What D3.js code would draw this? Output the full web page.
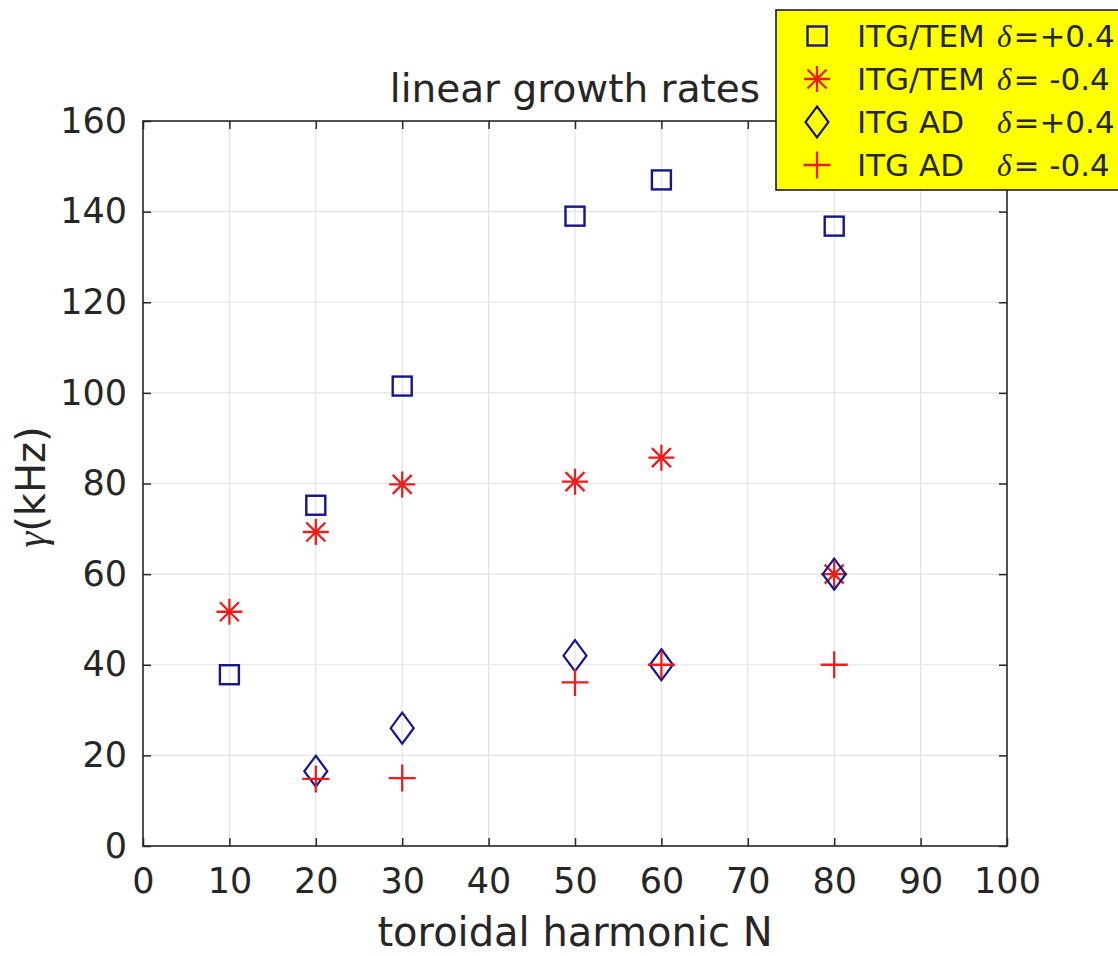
<!DOCTYPE html>
<html>
<head>
<meta charset="utf-8">
<script src="https://cdn.jsdelivr.net/npm/d3@7"></script>
<style>
  html, body { margin: 0; padding: 0; background: #ffffff; }
  svg { display: block; }
  text { font-family: "DejaVu Sans", sans-serif; fill: #262626; }
</style>
</head>
<body>
<svg id="chart" width="1118" height="956"></svg>
<script>
// ---- data ----
const xTicks = [0, 10, 20, 30, 40, 50, 60, 70, 80, 90, 100];
const yTicks = [0, 20, 40, 60, 80, 100, 120, 140, 160];

const temPosN = [10, 20, 30, 50, 60, 80];
const temPosG = [37.8, 75.2, 101.5, 139, 147, 136.8];

const temNegN = [10, 20, 30, 50, 60, 80];
const temNegG = [51.7, 69.3, 79.8, 80.4, 85.7, 60];

const adPosN = [20, 30, 50, 60, 80];
const adPosG = [16.5, 26, 42, 40, 60];

const adNegN = [20, 30, 50, 60, 80];
const adNegG = [14.8, 15, 36.1, 40, 40];

const legendNames = ["ITG/TEM", "ITG/TEM", "ITG AD", "ITG AD"];
const legendDeltas = ["=+0.4", "= -0.4", "=+0.4", "= -0.4"];

const titleText = "linear growth rates";
const xLabelText = "toroidal harmonic N";

// ---- layout ----
const svg = d3.select("#chart");
const L = 143, R = 1007, T = 121, B = 846;
const x = d3.scaleLinear().domain([0, 100]).range([L, R]);
const y = d3.scaleLinear().domain([0, 160]).range([B, T]);

const blue = "#16168a";
const red = "#ee1c1c";
const axisColor = "#262626";

// grid
const grid = svg.append("g");
grid.selectAll("line.gx").data(xTicks.slice(1, -1)).enter().append("line")
  .attr("x1", d => x(d)).attr("x2", d => x(d)).attr("y1", T).attr("y2", B)
  .attr("stroke", "#e3e3e3").attr("stroke-width", 1.2);
grid.selectAll("line.gy").data(yTicks.slice(1, -1)).enter().append("line")
  .attr("x1", L).attr("x2", R).attr("y1", d => y(d)).attr("y2", d => y(d))
  .attr("stroke", "#e3e3e3").attr("stroke-width", 1.2);

// axes (inward ticks, box)
const xAxis = d3.axisBottom(x).tickValues(xTicks).tickSize(-8).tickPadding(22).tickFormat(d3.format("d"));
const yAxis = d3.axisLeft(y).tickValues(yTicks).tickSize(-8).tickPadding(16).tickFormat(d3.format("d"));

const gx = svg.append("g").attr("transform", `translate(0,${B})`).call(xAxis);
const gy = svg.append("g").attr("transform", `translate(${L},0)`).call(yAxis);
[gx, gy].forEach(g => {
  g.select(".domain").remove();
  g.selectAll(".tick line").attr("stroke", axisColor).attr("stroke-width", 1.5);
  g.selectAll(".tick text").attr("fill", axisColor).style("font-family", "DejaVu Sans")
    .style("font-size", "35px");
});
// top/right ticks
svg.append("g").attr("transform", `translate(0,${T})`)
  .call(d3.axisTop(x).tickValues(xTicks).tickSize(-8).tickFormat(""))
  .call(g => { g.select(".domain").remove(); g.selectAll(".tick line").attr("stroke", axisColor).attr("stroke-width", 1.5); });
svg.append("g").attr("transform", `translate(${R},0)`)
  .call(d3.axisRight(y).tickValues(yTicks).tickSize(-8).tickFormat(""))
  .call(g => { g.select(".domain").remove(); g.selectAll(".tick line").attr("stroke", axisColor).attr("stroke-width", 1.5); });

svg.append("rect").attr("x", L).attr("y", T).attr("width", R - L).attr("height", B - T)
  .attr("fill", "none").attr("stroke", axisColor).attr("stroke-width", 1.6);

// labels
svg.append("text").attr("x", (L + R) / 2).attr("y", 102).attr("text-anchor", "middle")
  .style("font-size", "39px").attr("fill", "#111").text(titleText);
svg.append("text").attr("x", (L + R) / 2).attr("y", 946).attr("text-anchor", "middle")
  .style("font-size", "40px").text(xLabelText);
const yl = svg.append("text").attr("transform", `translate(45,487) rotate(-90)`)
  .attr("text-anchor", "middle").style("font-size", "40px");
yl.append("tspan").style("font-family", "Liberation Serif").style("font-style", "italic").text("γ");
yl.append("tspan").text("(kHz)");

// ---- marker drawers ----
function square(g, cx, cy, color) {
  g.append("rect").attr("x", cx - 9.5).attr("y", cy - 9.5).attr("width", 19).attr("height", 19)
    .attr("fill", "none").attr("stroke", color).attr("stroke-width", 2.4);
}
function diamond(g, cx, cy, color) {
  const w = 11.5, h = 15.5;
  g.append("path").attr("d", `M${cx},${cy - h}L${cx + w},${cy}L${cx},${cy + h}L${cx - w},${cy}Z`)
    .attr("fill", "none").attr("stroke", color).attr("stroke-width", 2.2);
}
function asterisk(g, cx, cy, color) {
  const r = 13, d = 9.5;
  const p = `M${cx - r},${cy}L${cx + r},${cy}M${cx},${cy - r}L${cx},${cy + r}` +
            `M${cx - d},${cy - d}L${cx + d},${cy + d}M${cx - d},${cy + d}L${cx + d},${cy - d}`;
  g.append("path").attr("d", p).attr("fill", "none").attr("stroke", color).attr("stroke-width", 2.3);
}
function plus(g, cx, cy, color) {
  const r = 13.5;
  g.append("path").attr("d", `M${cx - r},${cy}L${cx + r},${cy}M${cx},${cy - r}L${cx},${cy + r}`)
    .attr("fill", "none").attr("stroke", color).attr("stroke-width", 2.3);
}

const marks = svg.append("g");
temPosN.forEach((n, i) => square(marks, x(n), y(temPosG[i]), blue));
temNegN.forEach((n, i) => asterisk(marks, x(n), y(temNegG[i]), red));
adPosN.forEach((n, i) => diamond(marks, x(n), y(adPosG[i]), blue));
adNegN.forEach((n, i) => plus(marks, x(n), y(adNegG[i]), red));

// ---- legend ----
const lg = svg.append("g");
lg.append("rect").attr("x", 776).attr("y", 10).attr("width", 360).attr("height", 180)
  .attr("fill", "#ffff00").attr("stroke", "#1a1a1a").attr("stroke-width", 1.6);
const rowY = [36, 79, 122, 165];
const drawers = [square, asterisk, diamond, plus];
const colors = [blue, red, blue, red];
rowY.forEach((ry, i) => {
  drawers[i](lg, 817, ry, colors[i]);
  const t = lg.append("text").attr("x", 857).attr("y", ry + 11).style("font-size", "31px").attr("fill", "#1a1a1a");
  t.append("tspan").text(legendNames[i]);
  t.append("tspan").attr("x", 997).style("font-family", "Liberation Serif").style("font-style", "italic").text("δ");
  t.append("tspan").attr("dx", 2).text(legendDeltas[i]);
});
</script>
</body>
</html>
